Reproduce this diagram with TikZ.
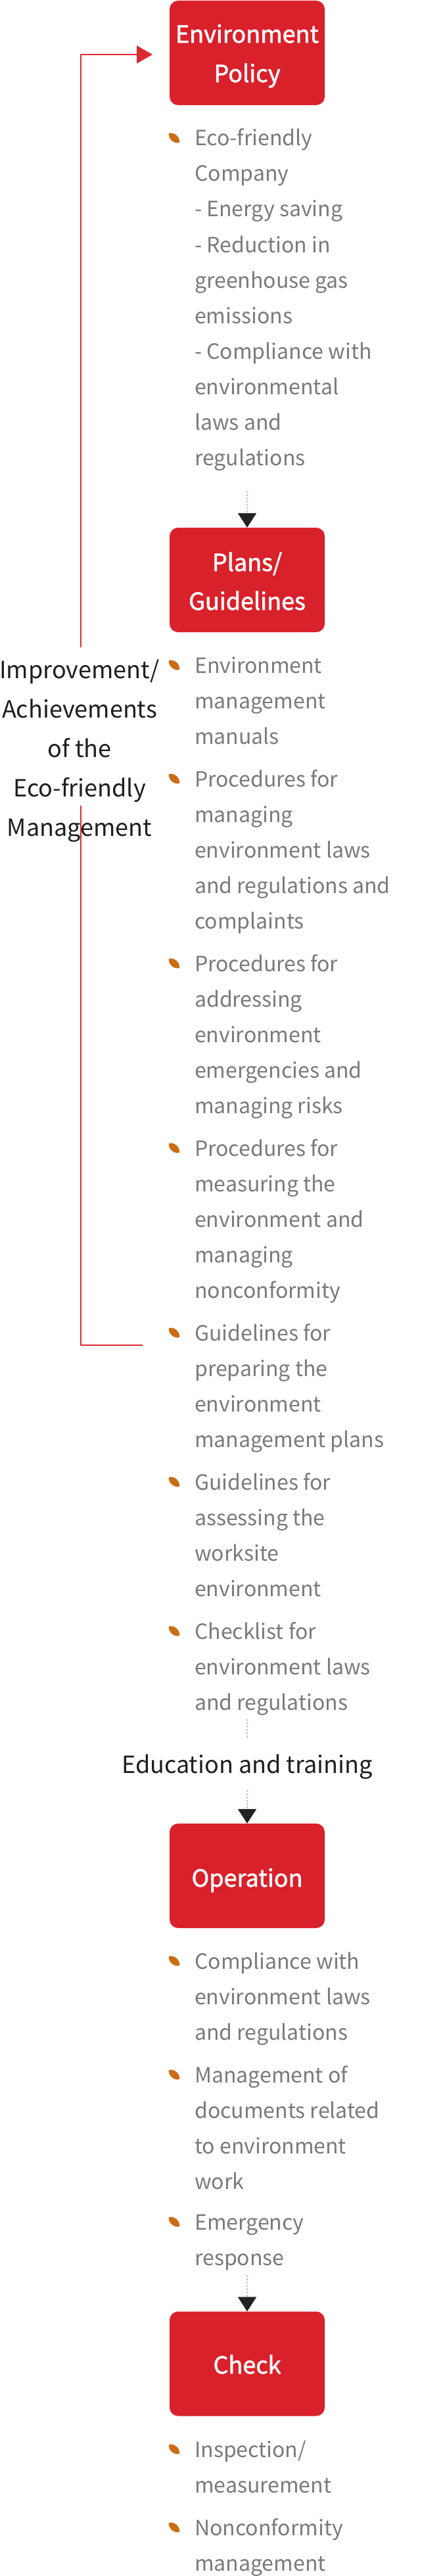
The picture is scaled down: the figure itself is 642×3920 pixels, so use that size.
\documentclass[tikz,border=0pt]{standalone}
\usepackage{fontspec}
\newfontfamily\kr{Noto Sans CJK KR}
\newfontfamily\krmed[FakeBold=1.6]{Noto Sans CJK KR}
\usetikzlibrary{arrows.meta}
\definecolor{boxred}{HTML}{D9212B}
\definecolor{loopred}{HTML}{DC2A33}
\definecolor{graytxt}{HTML}{7A7A7A}
\definecolor{leafc}{HTML}{CC6C14}
\definecolor{dotc}{HTML}{F0B4B8}
\definecolor{darktxt}{HTML}{1E1E1E}
\definecolor{arrowk}{HTML}{222222}
\tikzset{
  stagebox/.style={fill=boxred, rounded corners=13pt, minimum width=236pt, minimum height=159pt, inner sep=0pt, draw=none},
  boxtxt/.style={text=white, font={\krmed\fontsize{36}{60}\selectfont}, anchor=base, inner sep=0pt},
  itemtxt/.style={text=graytxt, font={\kr\fontsize{32}{54}\selectfont}, anchor=base west, inner sep=0pt},
  sidetxt/.style={text=darktxt, font={\kr\fontsize{36}{60}\selectfont}, anchor=base, inner sep=0pt},
  dotline/.style={draw=dotc, line width=2pt, dash pattern=on 2.5pt off 2.5pt},
  downarrow/.style={dotline, -{Triangle[length=22pt,width=28pt,color=arrowk]}},
  loopline/.style={draw=loopred, line width=2pt},
  leaf/.pic={\fill[leafc] (-8,-7) to[bend left=60] (8,7) to[bend left=60] (-8,-7) -- cycle;}
}
\newcommand\bitem[3]{%
  \pic at (265,#2-12) {leaf};
  \foreach \ln [count=\k from 0] in {#3} {\node[itemtxt] (#1-\k) at (296,#2+54*\k) {\ln};}
}
\begin{document}
\begin{tikzpicture}[x=1pt,y=-1pt]
\useasboundingbox (0,0) rectangle (642,3920);
\fill[white] (0,0) rectangle (642,3920);

% ---- Environment Policy
\node[stagebox] (b1) at (376,80.5) {};
\node[boxtxt] (b1t1) at (376,65) {Environment};
\node[boxtxt] (b1t2) at (376,125) {Policy};
\bitem{p1}{222}{Eco-friendly, Company, - Energy saving, - Reduction in, greenhouse gas, emissions, - Compliance with, environmental, laws and, regulations}

% ---- Plans/Guidelines
\node[stagebox] (b2) at (376,882.5) {};
\node[boxtxt] (b2t1) at (376,869) {Plans/};
\node[boxtxt] (b2t2) at (376,928) {Guidelines};
\coordinate (d1) at (376,747);
\draw[downarrow] (d1) -- (b2.north);

\bitem{g1}{1024}{Environment, management, manuals}
\bitem{g2}{1197}{Procedures for, managing, environment laws, and regulations and, complaints}
\bitem{g3}{1478}{Procedures for, addressing, environment, emergencies and, managing risks}
\bitem{g4}{1759}{Procedures for, measuring the, environment and, managing, nonconformity}
\bitem{g5}{2040}{Guidelines for, preparing the, environment, management plans}
\bitem{g6}{2267}{Guidelines for, assessing the, worksite, environment}
\bitem{g7}{2494}{Checklist for, environment laws, and regulations}

% ---- Education and training
\node[sidetxt] (edu) at (376,2698) {Education and training};
\coordinate (d3a) at (376,2616);
\coordinate (d3b) at (376,2647);
\draw[dotline] (d3a) -- (d3b);

% ---- Operation
\node[stagebox] (b3) at (376,2854.5) {};
\node[boxtxt] (b3t) at (376,2871) {Operation};
\coordinate (d4) at (376,2724);
\draw[downarrow] (d4) -- (b3.north);
\bitem{o1}{2996}{Compliance with, environment laws, and regulations}
\bitem{o2}{3169}{Management of, documents related, to environment, work}
\bitem{o3}{3393}{Emergency, response}

% ---- Check
\node[stagebox] (b4) at (376,3597) {};
\node[boxtxt] (b4t) at (376,3612) {Check};
\coordinate (d5) at (376,3462);
\draw[downarrow] (d5) -- (b4.north);
\bitem{c1}{3739}{Inspection/, measurement}
\bitem{c2}{3858}{Nonconformity, management}

% ---- feedback loop
\node[sidetxt] (lab1) at (121,1032) {Improvement/};
\node[sidetxt] (lab2) at (121,1092) {Achievements};
\node[sidetxt] (lab3) at (121,1152) {of the};
\node[sidetxt] (lab4) at (121,1212) {Eco-friendly};
\node[sidetxt] (lab5) at (121,1272) {Management};
\coordinate (loopS) at (217,2047);
\coordinate (loopSW) at (123,2047);
\coordinate (gapB) at (123,1226);
\coordinate (gapT) at (123,985);
\coordinate (loopNW) at (123,83);
\coordinate (tip) at (232,83);
\draw[loopline] (loopS) -- (loopSW) -- (gapB);
\draw[loopline, -{Triangle[length=24pt,width=27pt]}] (gapT) -- (loopNW) -- (tip);
\end{tikzpicture}
\end{document}
